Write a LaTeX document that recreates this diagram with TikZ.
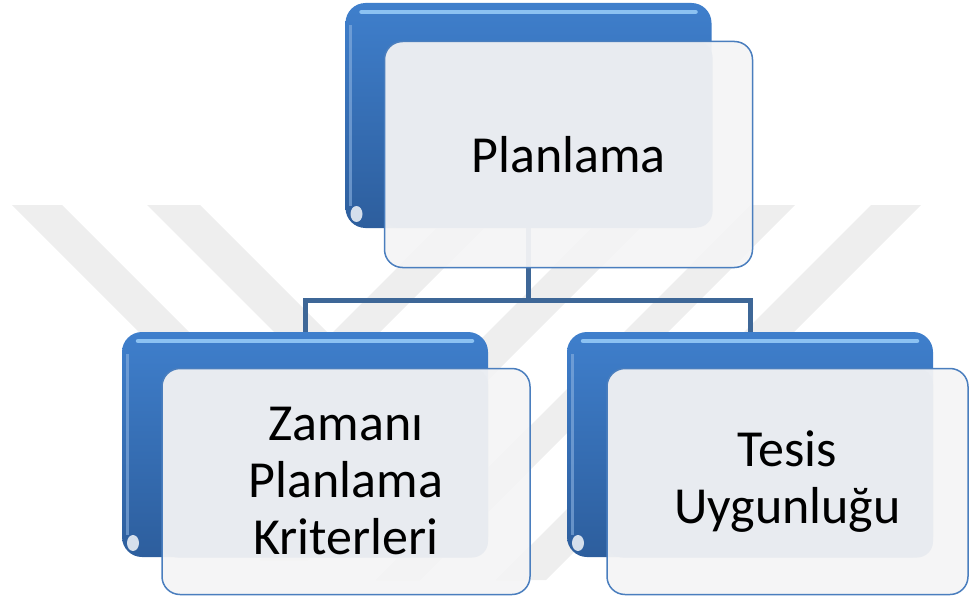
\documentclass[tikz,border=0pt]{standalone}
\usepackage{fontspec}
\setmainfont{Carlito}
\usepackage{tikz}
\usetikzlibrary{positioning}

\definecolor{boxblue}{HTML}{3F7FCC}
\definecolor{boxbluedark}{HTML}{2D5E9D}
\definecolor{hilite}{HTML}{8CC2F2}
\definecolor{frontline}{HTML}{4A7EBE}
\definecolor{frontfill}{HTML}{F4F4F5}
\definecolor{innerfill}{HTML}{E8EBF0}
\definecolor{connblue}{HTML}{3E6797}
\definecolor{wmgray}{HTML}{EEEEEE}

\begin{document}
\begin{tikzpicture}[x=1pt,y=-1pt,
  back/.style={rounded corners=20pt, minimum width=366pt, minimum height=225pt,
    inner sep=0pt, outer sep=0pt, top color=boxblue, bottom color=boxbluedark,
    path picture={
      \draw[hilite, line width=4.5pt, line cap=round]
        ([xshift=16pt,yshift=-9pt]path picture bounding box.north west) --
        ([xshift=-16pt,yshift=-9pt]path picture bounding box.north east);
      \draw[boxblue!60!white, line width=3pt, opacity=.6]
        ([xshift=5pt,yshift=-22pt]path picture bounding box.north west) --
        ([xshift=5pt,yshift=22pt]path picture bounding box.south west);
      \fill[white, opacity=.8]
        ([xshift=11pt,yshift=14pt]path picture bounding box.south west)
        ellipse [x radius=6pt, y radius=8pt];}},
  front/.style={rounded corners=18pt, minimum width=368pt, minimum height=226pt,
    inner sep=0pt, outer sep=0pt, draw=frontline, line width=1.5pt,
    fill=frontfill, fill opacity=.95, text opacity=1, align=center,
    font=\fontsize{52pt}{57pt}\selectfont,
    path picture={
      \fill[innerfill, fill opacity=1, rounded corners=16pt]
        (path picture bounding box.north west) rectangle ++(#1);}},
  conn/.style={draw=connblue, line width=5pt}]
\useasboundingbox (0,0) rectangle (969,599);

\fill[wmgray] (12,205) -- (62,205) -- (307,450) -- (257,450) -- cycle;
\fill[wmgray] (147,205) -- (200,205) -- (395,400) -- (342,400) -- cycle;
\fill[wmgray] (460,205) -- (507,205) -- (292,420) -- (245,420) -- cycle;
\fill[wmgray] (615,205) -- (663,205) -- (308,560) -- (260,560) -- cycle;
\fill[wmgray] (751,205) -- (795,205) -- (420,580) -- (376,580) -- cycle;
\fill[wmgray] (871,205) -- (921,205) -- (546,580) -- (496,580) -- cycle;

\node[back] (planback) at (528.5,115.5) {};
\node[back] (zamanback) at (305,444.5) {};
\node[back] (tesisback) at (750,444.5) {};

\draw[conn] (planback.south) -- ++(0,72) coordinate (split) -| (zamanback.north);
\draw[conn] (split) -| (tesisback.north);

\node[front={328,186}] (plan) at (568.5,154.5) {Planlama};
\node[front={326,189}] (zaman) at (346,481.5) {Zamanı\\Planlama\\Kriterleri};
\node[front={326,189}, minimum width=361pt] (tesis) at (787.5,481.5) {Tesis\\Uygunluğu};
\end{tikzpicture}
\end{document}
